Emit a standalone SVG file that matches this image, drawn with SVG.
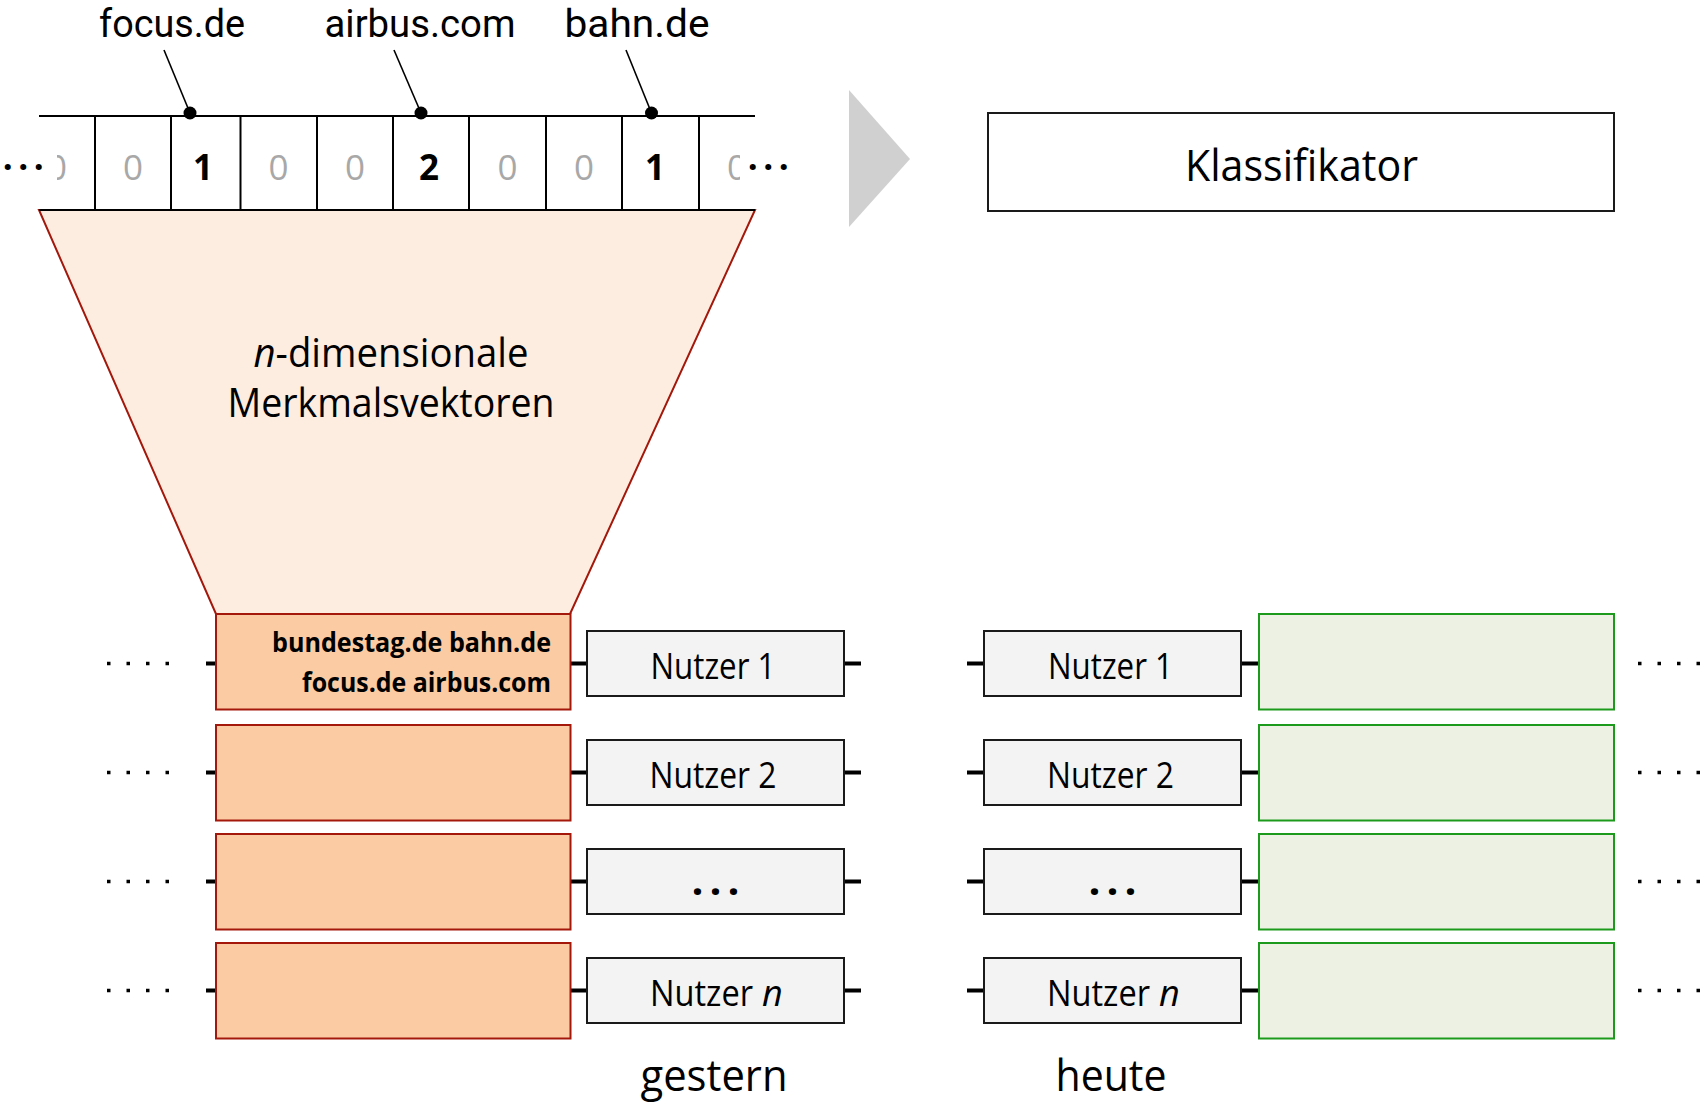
<svg xmlns="http://www.w3.org/2000/svg" width="1703" height="1103" viewBox="0 0 1703 1103">
  <style>
    text { font-family: "Open Sans", "Noto Sans", "Liberation Sans", sans-serif; fill: #000; }
    .lbl { font-family: Roboto, "Open Sans", sans-serif; font-size: 39px; text-anchor: middle; }
    .dig { font-size: 35px; text-anchor: middle; }
    .zero { fill: #a8a8a8; }
    .one { font-weight: 700; }
    .cell { stroke: #000; stroke-width: 2; fill: none; }
    .lead { stroke: #000; stroke-width: 1.6; fill: none; }
    .user rect { fill: #f3f3f3; stroke: #1a1a1a; stroke-width: 2; }
    .user text { font-size: 36px; text-anchor: middle; }
    .user text.st { text-anchor: start; }
    .user text.ell { font-size: 42px; font-weight: 700; letter-spacing: 6px; }
    .hist rect { fill: #fbcba3; stroke: #a3180b; stroke-width: 2; }
    .today rect { fill: #edf1e3; stroke: #1c9a1c; stroke-width: 2; }
    .stub { stroke: #000; stroke-width: 4; }
    .dots { stroke: #000; stroke-width: 3.5; stroke-dasharray: 3.5 16; }
    .caption { font-size: 44px; text-anchor: middle; }
  </style>
  <defs>
    <clipPath id="clipLeft"><rect x="57" y="120" width="40" height="88"/></clipPath>
    <clipPath id="clipRight"><rect x="700" y="120" width="40" height="88"/></clipPath>
  </defs>

  <!-- funnel of feature vectors -->
  <g id="funnel">
    <polygon points="39,210 755,210 570,614 216,614" fill="#fdede1" stroke="#a3180b" stroke-width="2"/>
    <text x="391" y="367" font-size="40" text-anchor="middle" textLength="275" lengthAdjust="spacingAndGlyphs"><tspan font-style="italic">n</tspan>-dimensionale</text>
    <text x="391" y="417" font-size="40" text-anchor="middle" textLength="327" lengthAdjust="spacingAndGlyphs">Merkmalsvektoren</text>
  </g>

  <!-- feature vector cells -->
  <g id="vector">
    <line class="cell" x1="39" y1="116" x2="755" y2="116"/>
    <line class="cell" x1="39" y1="210" x2="755" y2="210"/>
    <line class="cell" x1="95" y1="116" x2="95" y2="210"/>
    <line class="cell" x1="171" y1="116" x2="171" y2="210"/>
    <line class="cell" x1="240.5" y1="116" x2="240.5" y2="210"/>
    <line class="cell" x1="317" y1="116" x2="317" y2="210"/>
    <line class="cell" x1="393" y1="116" x2="393" y2="210"/>
    <line class="cell" x1="469" y1="116" x2="469" y2="210"/>
    <line class="cell" x1="546" y1="116" x2="546" y2="210"/>
    <line class="cell" x1="622" y1="116" x2="622" y2="210"/>
    <line class="cell" x1="699" y1="116" x2="699" y2="210"/>

    <text class="dig one" x="26" y="180" letter-spacing="5.5">···</text>
    <text class="dig zero" x="57" y="180" clip-path="url(#clipLeft)">0</text>
    <text class="dig zero" x="133" y="180">0</text>
    <text class="dig one" x="203" y="180">1</text>
    <text class="dig zero" x="278.5" y="180">0</text>
    <text class="dig zero" x="355" y="180">0</text>
    <text class="dig one" x="429" y="180">2</text>
    <text class="dig zero" x="507.5" y="180">0</text>
    <text class="dig zero" x="584" y="180">0</text>
    <text class="dig one" x="655" y="180">1</text>
    <text class="dig zero" x="737" y="180" clip-path="url(#clipRight)">0</text>
    <text class="dig one" x="771" y="180" letter-spacing="5.5">···</text>
  </g>

  <!-- domain labels with pointers -->
  <g id="label-focus">
    <text class="lbl" x="172" y="36.5" textLength="146" lengthAdjust="spacingAndGlyphs">focus.de</text>
    <line class="lead" x1="164" y1="50" x2="190" y2="113"/>
    <circle cx="190" cy="113" r="6.5"/>
  </g>
  <g id="label-airbus">
    <text class="lbl" x="420" y="36.5" textLength="191" lengthAdjust="spacingAndGlyphs">airbus.com</text>
    <line class="lead" x1="394" y1="50" x2="421" y2="113"/>
    <circle cx="421" cy="113" r="6.5"/>
  </g>
  <g id="label-bahn">
    <text class="lbl" x="637" y="36.5" textLength="145" lengthAdjust="spacingAndGlyphs">bahn.de</text>
    <line class="lead" x1="626" y1="50" x2="651.5" y2="113"/>
    <circle cx="651.5" cy="113" r="6.5"/>
  </g>

  <!-- step arrow -->
  <g id="arrow">
    <polygon points="849,90 910,159 849,227" fill="#d0d0d0"/>
  </g>

  <!-- classifier -->
  <g id="classifier">
    <rect x="988" y="113" width="626" height="98" fill="#fff" stroke="#1a1a1a" stroke-width="2"/>
    <text x="1301.5" y="181" font-size="43" text-anchor="middle" textLength="233" lengthAdjust="spacingAndGlyphs">Klassifikator</text>
  </g>

  <!-- connectors -->
  <g id="connectors">
    <line class="dots" x1="107" y1="663.5" x2="172" y2="663.5"/>
    <line class="dots" x1="107" y1="772.5" x2="172" y2="772.5"/>
    <line class="dots" x1="107" y1="881.5" x2="172" y2="881.5"/>
    <line class="dots" x1="107" y1="990.5" x2="172" y2="990.5"/>
    <line class="dots" x1="1638" y1="663.5" x2="1703" y2="663.5"/>
    <line class="dots" x1="1638" y1="772.5" x2="1703" y2="772.5"/>
    <line class="dots" x1="1638" y1="881.5" x2="1703" y2="881.5"/>
    <line class="dots" x1="1638" y1="990.5" x2="1703" y2="990.5"/>

    <path class="stub" d="M206,663.5H216M570,663.5H587M844,663.5H861M967,663.5H984M1241,663.5H1259"/>
    <path class="stub" d="M206,772.5H216M570,772.5H587M844,772.5H861M967,772.5H984M1241,772.5H1259"/>
    <path class="stub" d="M206,881.5H216M570,881.5H587M844,881.5H861M967,881.5H984M1241,881.5H1259"/>
    <path class="stub" d="M206,990.5H216M570,990.5H587M844,990.5H861M967,990.5H984M1241,990.5H1259"/>
  </g>

  <!-- yesterday: visited domains per user -->
  <g id="hist-1" class="hist">
    <rect x="216" y="614" width="354.5" height="95.5"/>
    <text x="551" y="652" font-size="26.5" font-weight="700" text-anchor="end" textLength="279" lengthAdjust="spacingAndGlyphs">bundestag.de bahn.de</text>
    <text x="551" y="692" font-size="26.5" font-weight="700" text-anchor="end" textLength="249" lengthAdjust="spacingAndGlyphs">focus.de airbus.com</text>
  </g>
  <g id="hist-2" class="hist"><rect x="216" y="725" width="354.5" height="95.5"/></g>
  <g id="hist-3" class="hist"><rect x="216" y="834" width="354.5" height="95.5"/></g>
  <g id="hist-4" class="hist"><rect x="216" y="943" width="354.5" height="95.5"/></g>

  <g id="user-y1" class="user"><rect x="587" y="631" width="257" height="65"/><text x="713" y="679" textLength="125" lengthAdjust="spacingAndGlyphs">Nutzer 1</text></g>
  <g id="user-y2" class="user"><rect x="587" y="740" width="257" height="65"/><text x="713" y="788" textLength="127" lengthAdjust="spacingAndGlyphs">Nutzer 2</text></g>
  <g id="user-y3" class="user"><rect x="587" y="849" width="257" height="65"/><text class="ell" x="718.5" y="895">...</text></g>
  <g id="user-y4" class="user"><rect x="587" y="958" width="257" height="65"/>
    <text class="st" x="650" y="1006" textLength="103" lengthAdjust="spacingAndGlyphs">Nutzer</text>
    <text class="st" x="762" y="1006" font-style="italic">n</text>
  </g>

  <!-- today -->
  <g id="user-t1" class="user"><rect x="984" y="631" width="257" height="65"/><text x="1110.5" y="679" textLength="125" lengthAdjust="spacingAndGlyphs">Nutzer 1</text></g>
  <g id="user-t2" class="user"><rect x="984" y="740" width="257" height="65"/><text x="1110.5" y="788" textLength="127" lengthAdjust="spacingAndGlyphs">Nutzer 2</text></g>
  <g id="user-t3" class="user"><rect x="984" y="849" width="257" height="65"/><text class="ell" x="1115.5" y="895">...</text></g>
  <g id="user-t4" class="user"><rect x="984" y="958" width="257" height="65"/>
    <text class="st" x="1047" y="1006" textLength="103" lengthAdjust="spacingAndGlyphs">Nutzer</text>
    <text class="st" x="1159" y="1006" font-style="italic">n</text>
  </g>

  <g id="today-1" class="today"><rect x="1259" y="614" width="355" height="95.5"/></g>
  <g id="today-2" class="today"><rect x="1259" y="725" width="355" height="95.5"/></g>
  <g id="today-3" class="today"><rect x="1259" y="834" width="355" height="95.5"/></g>
  <g id="today-4" class="today"><rect x="1259" y="943" width="355" height="95.5"/></g>

  <!-- time captions -->
  <g id="caption-gestern"><text class="caption" x="714" y="1091" textLength="147" lengthAdjust="spacingAndGlyphs">gestern</text></g>
  <g id="caption-heute"><text class="caption" x="1111" y="1091" textLength="111" lengthAdjust="spacingAndGlyphs">heute</text></g>
</svg>
